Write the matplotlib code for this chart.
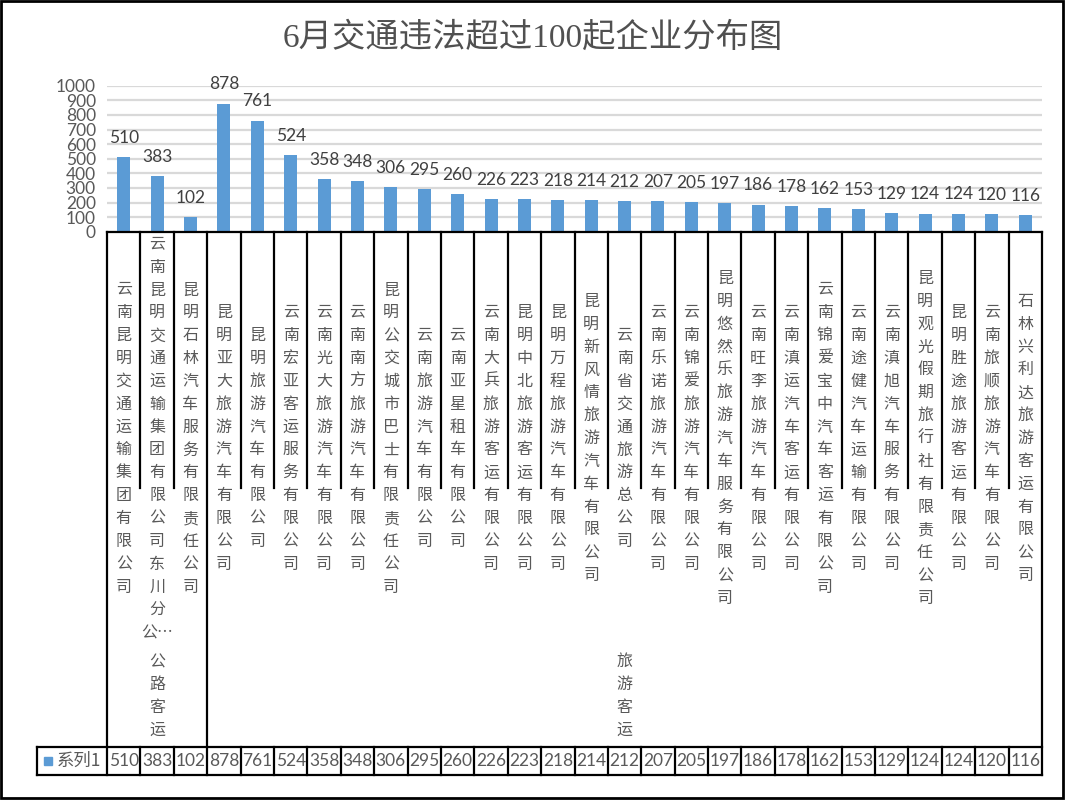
import matplotlib
matplotlib.use("Agg")
import matplotlib.pyplot as plt
from matplotlib.transforms import blended_transform_factory
from matplotlib.lines import Line2D
from matplotlib.patches import Rectangle

# ---------------- data ----------------
title = "6月交通违法超过100起企业分布图"
series_name = "系列1"
companies = [
    "云南昆明交通运输集团有限公司",
    "云南昆明交通运输集团有限公司东川分公…",
    "昆明石林汽车服务有限责任公司",
    "昆明亚大旅游汽车有限公司",
    "昆明旅游汽车有限公司",
    "云南宏亚客运服务有限公司",
    "云南光大旅游汽车有限公司",
    "云南南方旅游汽车有限公司",
    "昆明公交城市巴士有限责任公司",
    "云南旅游汽车有限公司",
    "云南亚星租车有限公司",
    "云南大兵旅游客运有限公司",
    "昆明中北旅游客运有限公司",
    "昆明万程旅游汽车有限公司",
    "昆明新风情旅游汽车有限公司",
    "云南省交通旅游总公司",
    "云南乐诺旅游汽车有限公司",
    "云南锦爱旅游汽车有限公司",
    "昆明悠然乐旅游汽车服务有限公司",
    "云南旺李旅游汽车有限公司",
    "云南滇运汽车客运有限公司",
    "云南锦爱宝中汽车客运有限公司",
    "云南途健汽车运输有限公司",
    "云南滇旭汽车服务有限公司",
    "昆明观光假期旅行社有限责任公司",
    "昆明胜途旅游客运有限公司",
    "云南旅顺旅游汽车有限公司",
    "石林兴利达旅游客运有限公司",
]
values = [510, 383, 102, 878, 761, 524, 358, 348, 306, 295, 260, 226, 223, 218,
          214, 212, 207, 205, 197, 186, 178, 162, 153, 129, 124, 124, 120, 116]
groups = ["公路客运", "旅游客运"]
group_sizes = [3, 25]
y_ticks = list(range(0, 1001, 100))

# ---------------- style ----------------
W, H = 1066, 800
BAR = "#5B9BD5"
TXT = "#595959"
CJK = ["Noto Sans CJK SC", "DejaVu Sans"]
NUM = ["Lato", "DejaVu Sans"]

def fx(px):
    return px / W

def fy(py):
    return 1 - py / H

fig = plt.figure(figsize=(W / 100, H / 100), dpi=100)
fig.patch.set_facecolor("white")

y0, y1000 = 231.7, 85.7
x_left, x_right = 107, 1042
ax = fig.add_axes([fx(x_left), fy(y0), fx(x_right) - fx(x_left), (y0 - y1000) / H])
n = len(values)
xs = list(range(n))
ax.bar(xs, values, width=0.39, color=BAR, zorder=3)
ax.set_xlim(-0.5, n - 0.5)
ax.set_ylim(0, 1000)
ax.set_yticks(y_ticks)
ax.set_xticks([])
ax.yaxis.grid(True, color="#D9D9D9", linewidth=1.6, zorder=0)
ax.set_axisbelow(True)
for s in ["top", "right", "left"]:
    ax.spines[s].set_visible(False)
ax.spines["bottom"].set_color("black")
ax.spines["bottom"].set_linewidth(1.6)
ax.spines["bottom"].set_zorder(4)
ax.tick_params(axis="y", length=0, pad=8, labelsize=12.5, labelcolor=TXT)
for lab in ax.get_yticklabels():
    lab.set_family(NUM)
ax.patch.set_alpha(0)

for i, v in zip(xs, values):
    ax.annotate(str(v), (i, v), xytext=(0, 8), textcoords="offset points",
                ha="center", va="bottom", fontsize=12.5, color="#404040",
                family=NUM, annotation_clip=False)

trans = blended_transform_factory(ax.transData, fig.transFigure)
LW = 1.6

def vline(x, ytop, ybot, tr=trans):
    fig.add_artist(Line2D([x, x], [fy(ytop), fy(ybot)], transform=tr,
                          color="black", lw=LW, clip_on=False))

# category labels
for i, name in enumerate(companies):
    if name.endswith("…"):
        lines = list(name[:-2]) + [name[-2:]]
    else:
        lines = list(name)
    fig.text(i, fy(438.5), "\n".join(lines), transform=trans, ha="center",
             va="center", fontsize=11.5, color=TXT, family=CJK, linespacing=1.45)

# dividers
table_top, table_bot = 747, 775
group_edges = [-0.5]
acc = -0.5
for g in group_sizes:
    acc += g
    group_edges.append(acc)
for k in range(n + 1):
    xe = k - 0.5
    if any(abs(xe - ge) < 1e-9 for ge in group_edges):
        vline(xe, y0, table_bot)
    else:
        vline(xe, y0, 488)
        vline(xe, table_top, table_bot)

# group labels
for gi, g in enumerate(groups):
    c = (group_edges[gi] + group_edges[gi + 1]) / 2
    fig.text(c, fy(696), "\n".join(g), transform=trans, ha="center",
             va="center", fontsize=11.5, color=TXT, family=CJK, linespacing=1.45)

# data table
for yy in (table_top, table_bot):
    fig.add_artist(Line2D([fx(37), fx(x_right)], [fy(yy), fy(yy)],
                          transform=fig.transFigure, color="black", lw=LW))
fig.add_artist(Line2D([fx(37), fx(37)], [fy(table_top), fy(table_bot)],
                      transform=fig.transFigure, color="black", lw=LW))
for i, v in zip(xs, values):
    fig.text(i, fy(761), str(v), transform=trans, ha="center", va="center",
             fontsize=12.5, color=TXT, family=NUM)
fig.add_artist(Rectangle((fx(44), fy(765)), 8 / W, 8 / H,
                         transform=fig.transFigure, color=BAR))
fig.text(fx(57), fy(761), series_name, ha="left", va="center",
         fontsize=12.5, color=TXT, family=CJK)

# title
fig.text(0.5, fy(38), title, ha="center", va="center", fontsize=24,
         color="#505050", family=["Liberation Serif", "Noto Sans CJK SC"])

# outer frame
fig.add_artist(Rectangle((fx(1), fy(798)), fx(1062), 797 / H, fill=False,
                         transform=fig.transFigure, edgecolor="black", lw=2))

fig.savefig("out.png", dpi=100)
